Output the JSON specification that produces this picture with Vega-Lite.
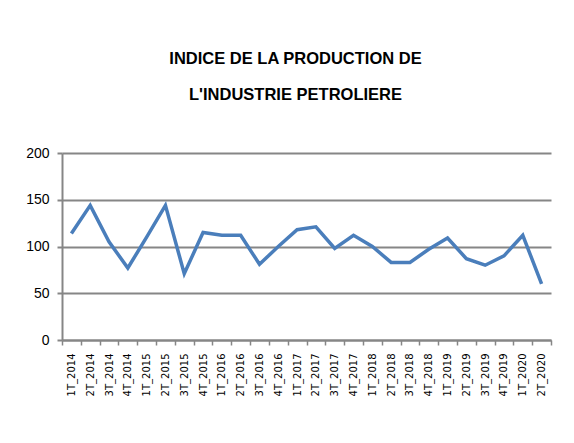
{
  "$schema": "https://vega.github.io/schema/vega-lite/v6.json",
  "autosize": "none",
  "width": 489,
  "height": 187,
  "padding": {"left": 62, "top": 153, "right": 23, "bottom": 103},
  "background": "white",
  "title": {
    "text": ["INDICE DE LA PRODUCTION DE", "L'INDUSTRIE PETROLIERE"],
    "font": "Liberation Sans Narrow, Liberation Sans, sans-serif",
    "fontSize": 16.5,
    "fontWeight": "bold",
    "lineHeight": 36,
    "color": "black",
    "anchor": "middle",
    "dx": -11,
    "offset": 43
  },
  "data": {
    "values": [
      {"trimestre": "1T_2014", "indice": 114},
      {"trimestre": "2T_2014", "indice": 144},
      {"trimestre": "3T_2014", "indice": 105},
      {"trimestre": "4T_2014", "indice": 77},
      {"trimestre": "1T_2015", "indice": 110},
      {"trimestre": "2T_2015", "indice": 144},
      {"trimestre": "3T_2015", "indice": 71},
      {"trimestre": "4T_2015", "indice": 115},
      {"trimestre": "1T_2016", "indice": 112},
      {"trimestre": "2T_2016", "indice": 112},
      {"trimestre": "3T_2016", "indice": 81},
      {"trimestre": "4T_2016", "indice": 100},
      {"trimestre": "1T_2017", "indice": 118},
      {"trimestre": "2T_2017", "indice": 121},
      {"trimestre": "3T_2017", "indice": 98},
      {"trimestre": "4T_2017", "indice": 112},
      {"trimestre": "1T_2018", "indice": 100},
      {"trimestre": "2T_2018", "indice": 83},
      {"trimestre": "3T_2018", "indice": 83},
      {"trimestre": "4T_2018", "indice": 97},
      {"trimestre": "1T_2019", "indice": 109},
      {"trimestre": "2T_2019", "indice": 87},
      {"trimestre": "3T_2019", "indice": 80},
      {"trimestre": "4T_2019", "indice": 90},
      {"trimestre": "1T_2020", "indice": 112},
      {"trimestre": "2T_2020", "indice": 60}
    ]
  },
  "mark": {"type": "line", "color": "#4a7ebb", "strokeWidth": 3.5, "strokeJoin": "miter"},
  "encoding": {
    "x": {
      "field": "trimestre",
      "type": "ordinal",
      "sort": null,
      "scale": {"type": "band", "paddingInner": 0, "paddingOuter": 0},
      "axis": {
        "title": null,
        "labelAngle": -90,
        "labelFont": "DejaVu Sans, sans-serif",
        "labelFontSize": 10,
        "labelColor": "black",
        "labelPadding": 8,
        "tickBand": "extent",
        "tickSize": 5,
        "tickColor": "#868686",
        "tickWidth": 1.5,
        "domainColor": "#868686",
        "domainWidth": 2,
        "grid": false
      }
    },
    "y": {
      "field": "indice",
      "type": "quantitative",
      "scale": {"domain": [0, 200], "nice": false},
      "axis": {
        "title": null,
        "values": [0, 50, 100, 150, 200],
        "labelFont": "Liberation Sans Narrow, Liberation Sans, sans-serif",
        "labelFontSize": 14,
        "labelColor": "black",
        "labelPadding": 8,
        "tickSize": 5,
        "tickColor": "#868686",
        "tickWidth": 2,
        "domainColor": "#868686",
        "domainWidth": 2,
        "grid": true,
        "gridColor": "#868686",
        "gridWidth": 2
      }
    }
  },
  "config": {"view": {"stroke": null}}
}
